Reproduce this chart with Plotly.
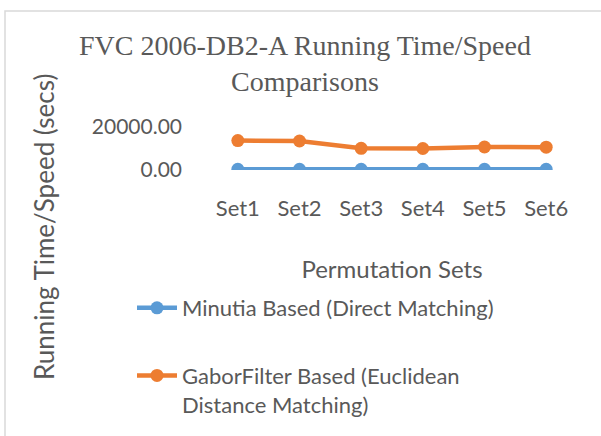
import plotly.graph_objects as go

categories = ["Set1", "Set2", "Set3", "Set4", "Set5", "Set6"]
minutia_times = [350, 350, 350, 350, 350, 350]
gabor_times = [13700, 13500, 10100, 10000, 10700, 10600]
y_tick_vals = [0, 20000]

series_names = ["Minutia Based (Direct Matching)",
                "GaborFilter Based (Euclidean<br>Distance Matching)"]
series_colors = ["#5B9BD5", "#ED7D31"]

W, H = 601, 436
L, R, T, B = 207, 24, 127, 266
txt = "#595959"
sans = "Lato"

fig = go.Figure()
for i, (name, vals) in enumerate(zip(series_names, [minutia_times, gabor_times])):
    fig.add_trace(go.Scatter(
        x=categories, y=vals, name=name, mode="lines+markers",
        line=dict(color=series_colors[i], width=4.5),
        marker=dict(color=series_colors[i], size=13),
        legendgroup=f"g{i}",
    ))

fig.update_layout(
    width=W, height=H,
    margin=dict(l=L, r=R, t=T, b=B, pad=0, autoexpand=False),
    paper_bgcolor="white", plot_bgcolor="white",
    font=dict(family=sans, color=txt, size=22),
    title=dict(text="FVC 2006-DB2-A Running Time/Speed<br>Comparisons",
               font=dict(family="Liberation Serif", size=28, color=txt),
               x=305 / W, xanchor="center", xref="container",
               y=1 - 55 / H, yanchor="top", yref="container"),
    showlegend=True,
    legend=dict(orientation="v", xref="container", yref="container",
                x=132 / W, xanchor="left", y=1 - 287 / H, yanchor="top",
                font=dict(family=sans, size=22, color=txt), itemwidth=40,
                tracegroupgap=36, valign="top", bgcolor="rgba(0,0,0,0)"),
    shapes=[dict(type="rect", xref="paper", yref="paper",
                 x0=(5 - L) / (W - L - R), x1=(W + 10 - L) / (W - L - R),
                 y0=(H - B - (H + 10)) / (H - T - B), y1=(H - B - 11) / (H - T - B),
                 line=dict(color="#D9D9D9", width=1.5), fillcolor="rgba(0,0,0,0)",
                 layer="below")],
    annotations=[dict(text="Running Time/Speed (secs)", textangle=-90,
                      xref="paper", yref="paper",
                      x=(44 - L) / (W - L - R), y=(H - B - 227) / (H - T - B),
                      xanchor="center", yanchor="middle", showarrow=False,
                      font=dict(family=sans, size=26, color=txt))],
)

fig.update_xaxes(type="category", range=[-0.5, 5.5], showgrid=False,
                 showline=False, zeroline=False, ticks="", automargin=False,
                 tickangle=0, ticklabelstandoff=23,
                 tickfont=dict(family=sans, size=22, color=txt),
                 title=dict(text="Permutation Sets", standoff=41,
                            font=dict(family=sans, size=24, color=txt)))
fig.update_yaxes(range=[0, 20000], tickvals=y_tick_vals, tickformat=".2f",
                 showgrid=True, gridcolor="#D9D9D9", gridwidth=1.3,
                 showline=False, zeroline=False, ticks="", automargin=False,
                 ticklabelstandoff=24,
                 tickfont=dict(family=sans, size=21, color=txt))

fig.write_html("out.html", config={"displayModeBar": False},
               post_script="document.body.style.margin='0px';")
